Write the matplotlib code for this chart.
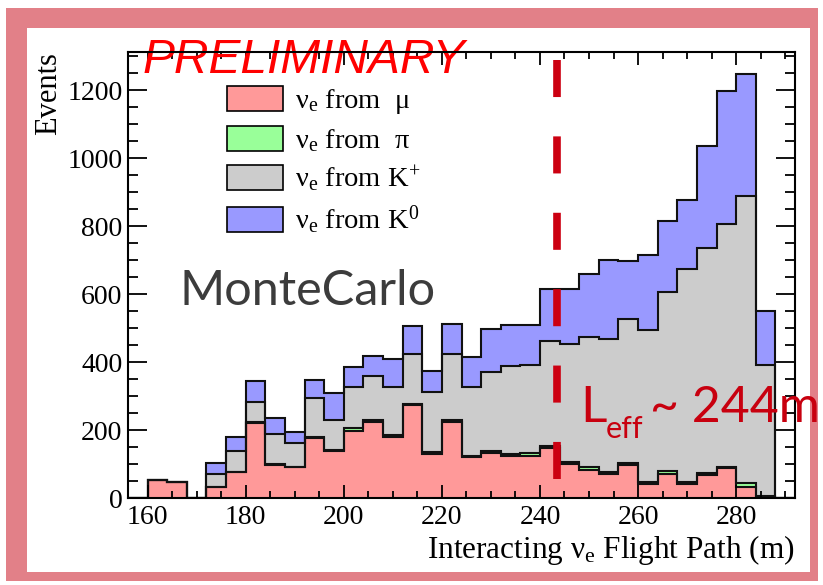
import numpy as np
import matplotlib
matplotlib.use("Agg")
import matplotlib.pyplot as plt
from matplotlib.patches import Rectangle, Patch
from matplotlib.ticker import MultipleLocator

# Flight path bins (m), 4 m wide
bin_edges = np.arange(156, 293, 4)

# Events per bin for each parent of the nu_e
from_mu = [0, 53, 47, 0, 31, 77, 221, 98, 90, 176, 139, 198, 223, 180, 274, 130, 224,
           120, 132, 123, 124, 146, 100, 82, 71, 97, 41, 71, 41, 68, 87, 33, 3, 0]
from_pi = [0, 0, 0, 0, 0, 0, 3, 2, 2, 2, 2, 9, 7, 5, 3, 4, 5,
           5, 7, 5, 7, 8, 7, 10, 5, 7, 7, 7, 7, 7, 5, 10, 2, 0]
from_kplus = [0, 0, 0, 0, 40, 62, 59, 89, 71, 115, 88, 121, 129, 141, 146, 177, 194,
              201, 233, 260, 260, 309, 346, 381, 393, 422, 446, 529, 625, 659, 713, 846, 386, 0]
from_k0 = [0, 0, 0, 0, 31, 40, 60, 45, 32, 53, 80, 57, 60, 82, 83, 64, 88,
           89, 124, 122, 119, 152, 162, 185, 231, 171, 221, 207, 205, 302, 393, 358, 160, 0]

labels = [r"ν$_{\mathrm{e}}$ from  μ", r"ν$_{\mathrm{e}}$ from  π",
          r"ν$_{\mathrm{e}}$ from K$^{+}$", r"ν$_{\mathrm{e}}$ from K$^{0}$"]
colors = ["#ff9999", "#99ff99", "#cccccc", "#9999ff"]

l_eff = 243.5

plt.rcParams["font.family"] = ["Liberation Serif", "DejaVu Serif"]
plt.rcParams["mathtext.fontset"] = "custom"
plt.rcParams["mathtext.rm"] = "Liberation Serif"
plt.rcParams["mathtext.it"] = "Liberation Serif:italic"

W, H = 823, 585
fig = plt.figure(figsize=(W / 100, H / 100), dpi=100)
fig.patch.set_facecolor("white")


def px(x, y):
    return x / W, 1 - y / H


# pink frame around the canvas
x0, y0 = px(6, 581)
fig.patches.append(Rectangle((x0, y0), 812 / W, 573 / H, transform=fig.transFigure,
                             facecolor="#e28088", edgecolor="none", zorder=-2))
x0, y0 = px(27, 572)
fig.patches.append(Rectangle((x0, y0), 783 / W, 544 / H, transform=fig.transFigure,
                             facecolor="white", edgecolor="none", zorder=-1))

ax = fig.add_axes([128 / W, 1 - 498 / H, 667 / W, 446 / H])
ax.patch.set_visible(False)

layers = [from_mu, from_pi, from_kplus, from_k0]
cum = np.cumsum(np.array(layers, dtype=float), axis=0)
for i in range(3, -1, -1):
    ax.stairs(cum[i], bin_edges, baseline=0, fill=True, facecolor=colors[i],
              edgecolor="none", zorder=1)
    ax.stairs(cum[i], bin_edges, baseline=0, color="#111111", lw=1.5, zorder=1.1)

ax.plot([l_eff, l_eff], [1288, 0], color="#cc0011", lw=5.5,
        dashes=(4.85, 5.15), solid_capstyle="butt", dash_capstyle="butt", zorder=3)

ax.set_xlim(156, 292)
ax.set_ylim(0, 1312)
ax.xaxis.set_major_locator(MultipleLocator(20))
ax.xaxis.set_minor_locator(MultipleLocator(5))
ax.yaxis.set_major_locator(MultipleLocator(200))
ax.yaxis.set_minor_locator(MultipleLocator(50))
ax.tick_params(which="both", direction="in", top=True, right=True, width=1.3,
               labelsize=20, color="black")
ax.tick_params(axis="x", which="major", length=9.5, pad=5)
ax.tick_params(axis="x", which="minor", length=5)
ax.tick_params(axis="y", which="major", length=13.5, pad=4)
ax.tick_params(axis="y", which="minor", length=7)
for s in ax.spines.values():
    s.set_linewidth(1.5)

ax.set_xlabel(r"Interacting ν$_{\mathrm{e}}$ Flight Path (m)", fontsize=22.5,
              loc="right", labelpad=2)
ax.set_ylabel("Events", fontsize=22, loc="top", labelpad=3)

handles = [Patch(facecolor=c, edgecolor="black", lw=1.2) for c in colors]
lx, ly = px(227, 86)
ax.legend(handles, labels, loc="upper left", bbox_to_anchor=(lx, ly),
          bbox_transform=fig.transFigure, frameon=False, fontsize=20.5,
          handlelength=1.97, handleheight=0.98, handletextpad=0.42,
          labelspacing=0.33, borderpad=0, borderaxespad=0)

tx, ty = px(143, 73)
ax.text(tx, ty, "PRELIMINARY", transform=fig.transFigure, fontsize=34.5,
        family="Liberation Sans", style="italic", color="red",
        ha="left", va="baseline", zorder=2)

tx, ty = px(180, 305)
ax.text(tx, ty, "MonteCarlo", transform=fig.transFigure, fontsize=35,
        family="Lato", color="#3c3c3c", ha="left", va="baseline")

red = "#c8000f"
tx, ty = px(580, 422)
ax.text(tx, ty, "L", transform=fig.transFigure, fontsize=37, family="Lato",
        color=red, ha="left", va="baseline", zorder=4)
tx, ty = px(606, 438)
ax.text(tx, ty, "eff", transform=fig.transFigure, fontsize=22, family="Lato",
        color=red, ha="left", va="baseline", zorder=4)
tx, ty = px(650, 422)
ax.text(tx, ty, "~ 244m", transform=fig.transFigure, fontsize=36, family="Lato",
        color=red, ha="left", va="baseline", zorder=4)

fig.savefig("out.png", dpi=100)
